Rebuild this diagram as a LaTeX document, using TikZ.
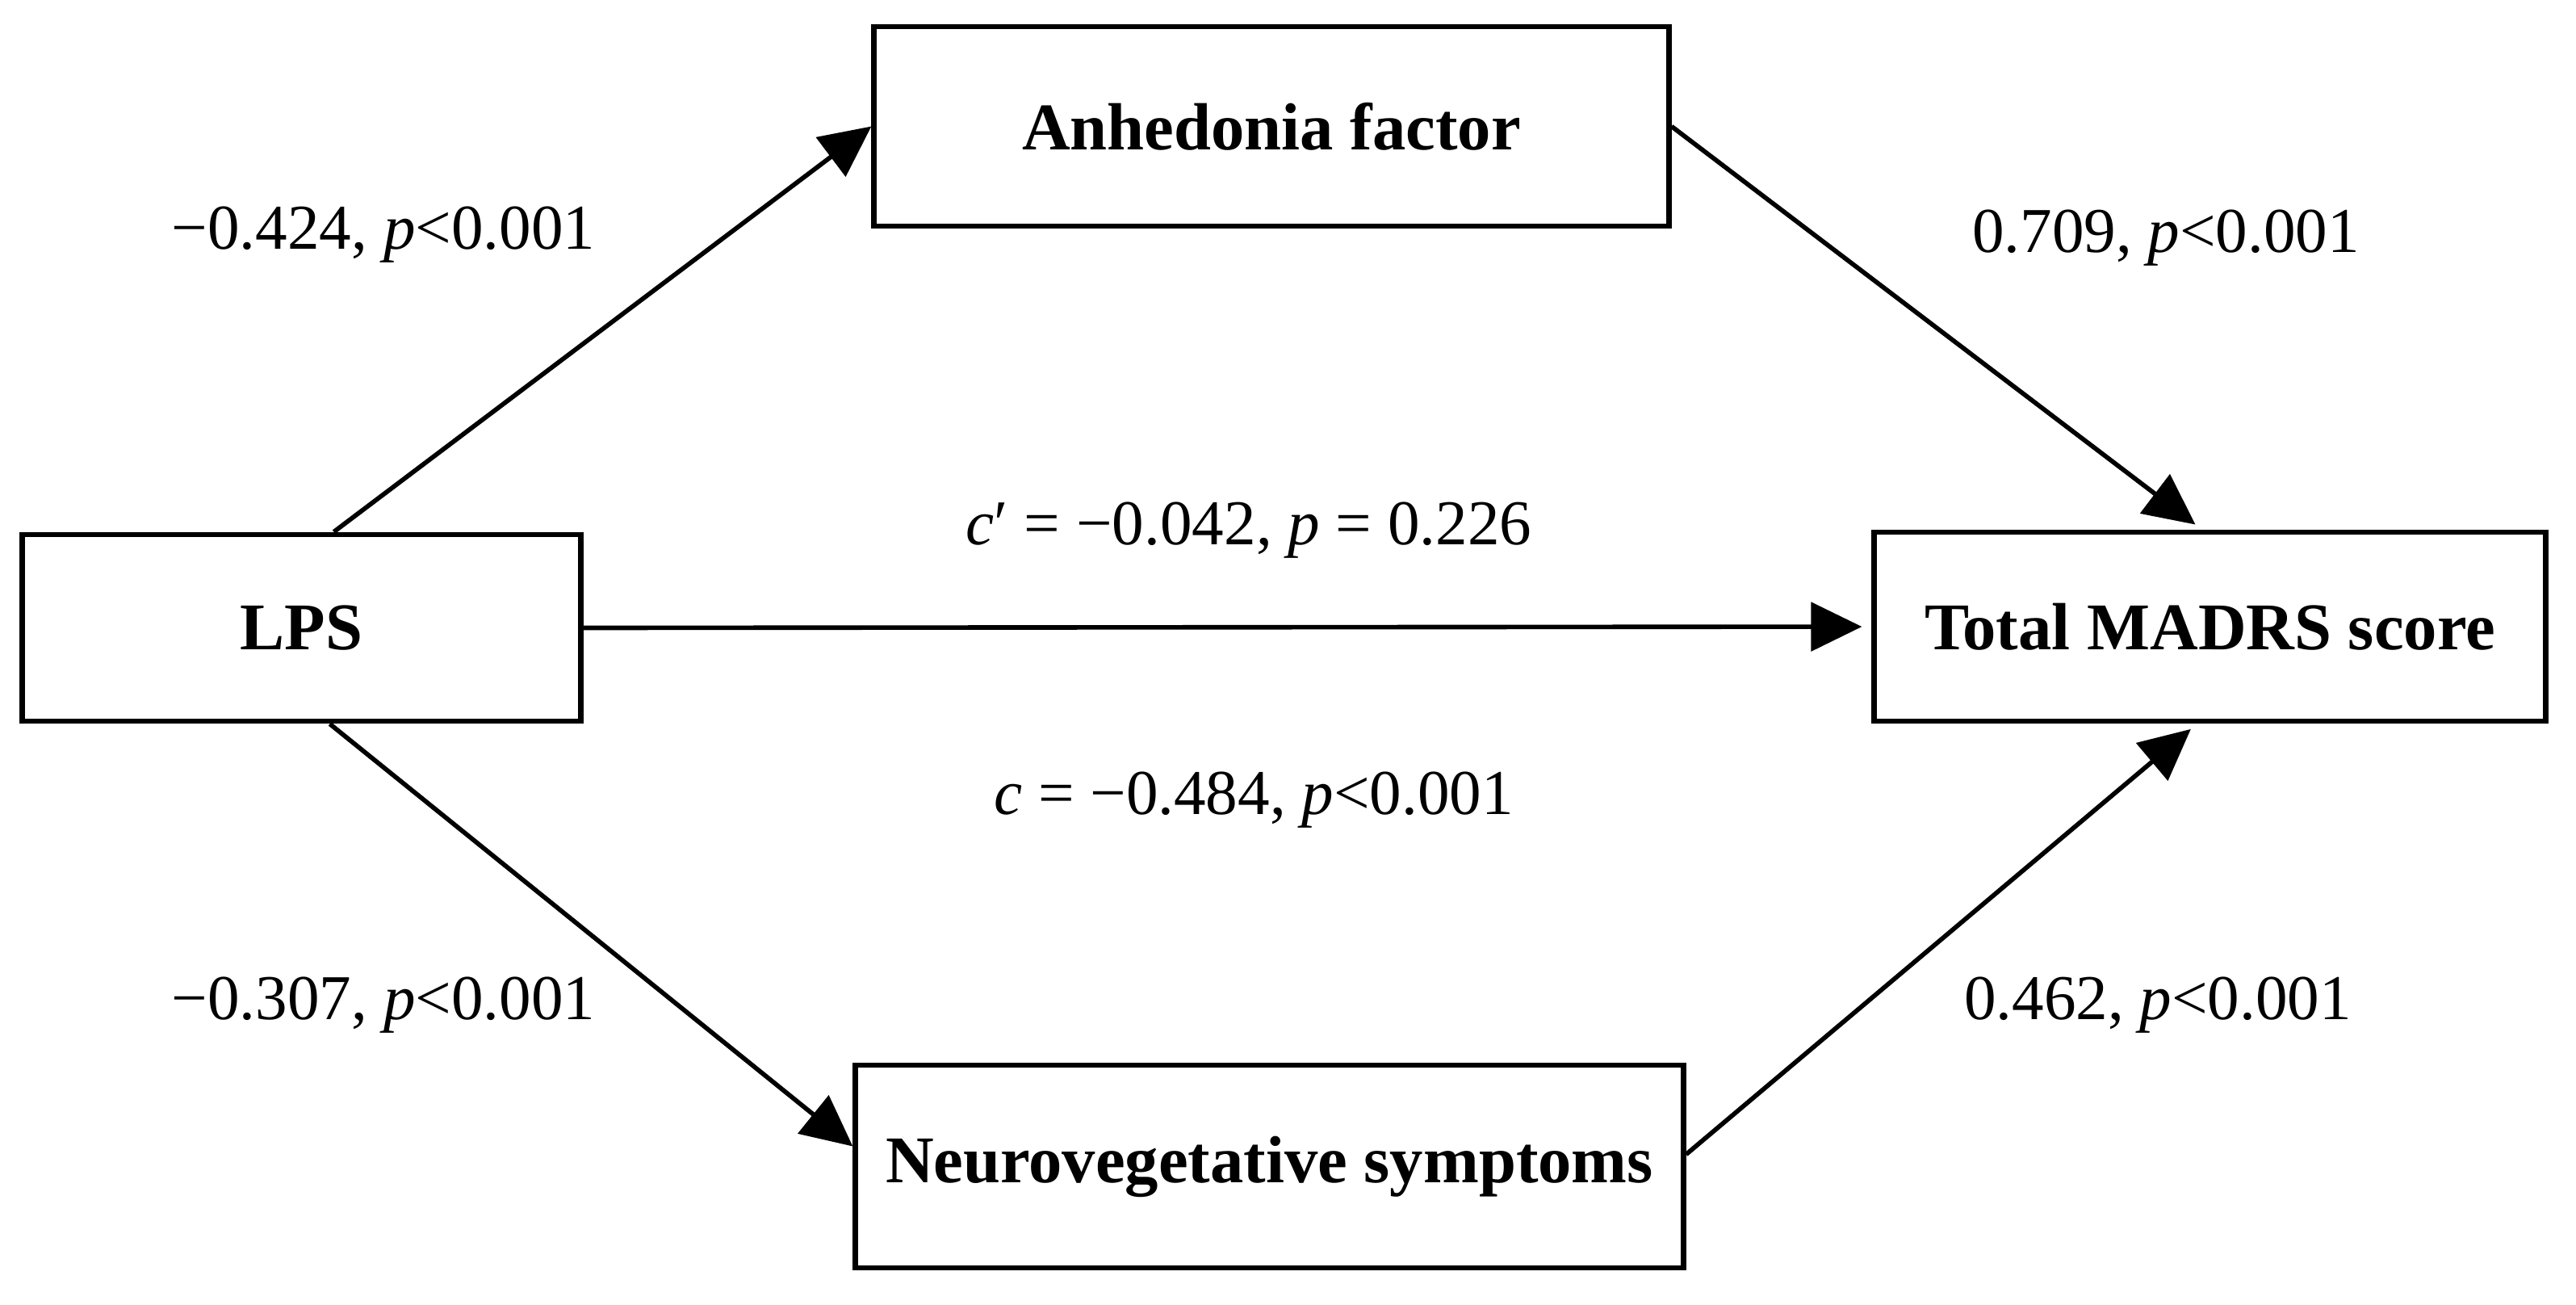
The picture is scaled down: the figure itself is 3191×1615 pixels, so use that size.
\documentclass[tikz,border=0pt]{standalone}
\usepackage{fontspec}
\setmainfont{Liberation Serif}
\usetikzlibrary{arrows.meta,positioning}

\begin{document}
\begin{tikzpicture}[x=0.01cm,y=-0.01cm,
  varbox/.style={draw,line width=1.9pt,inner sep=0pt,font=\fontsize{23.5}{28}\selectfont\bfseries},
  coef/.style={inner sep=0pt,font=\fontsize{22.5}{26}\selectfont},
  link/.style={line width=1.6pt,-{Triangle[length=6.3mm,width=6mm]}}]
\useasboundingbox (0,0) rectangle (3191,1615);

  \node[varbox,minimum width=9.84cm,minimum height=2.47cm] (anh) at (1575,156.5) {Anhedonia factor};
  \node[varbox,minimum width=6.91cm,minimum height=2.31cm] (lps) at (373.5,777.5) {LPS};
  \node[varbox,minimum width=8.31cm,minimum height=2.34cm] (madrs) at (2737.5,776) {Total MADRS score};
  \node[varbox,minimum width=10.25cm,minimum height=2.51cm] (neuro) at (1572.5,1444.5) {Neurovegetative symptoms};

 \draw[link] ([xshift=4mm]lps.north) -- (anh.west);
 \draw[link,shorten >=1mm] (anh.east) -- ([xshift=-1mm]madrs.north);
 \draw[link,shorten >=1.2mm] (lps.east) -- (madrs.west);
 \draw[link] ([xshift=3.5mm]lps.south) -- ([yshift=2.5mm]neuro.west);
 \draw[link,shorten >=1mm] ([yshift=1.5mm]neuro.east) -- ([xshift=-1.6mm]madrs.south);

  \node[coef] (la) at (475,291) {−0.424, \textit{p}<0.001};
  \node[coef] (lb) at (2683,295) {0.709, \textit{p}<0.001};
  \node[coef] (lc) at (1547,657) {\textit{c}′ = −0.042, \textit{p} = 0.226};
  \node[coef] (ld) at (1553,991) {\textit{c} = −0.484, \textit{p}<0.001};
  \node[coef] (le) at (475,1245) {−0.307, \textit{p}<0.001};
  \node[coef] (lf) at (2673,1245) {0.462, \textit{p}<0.001};
    
\end{tikzpicture}
\end{document}
